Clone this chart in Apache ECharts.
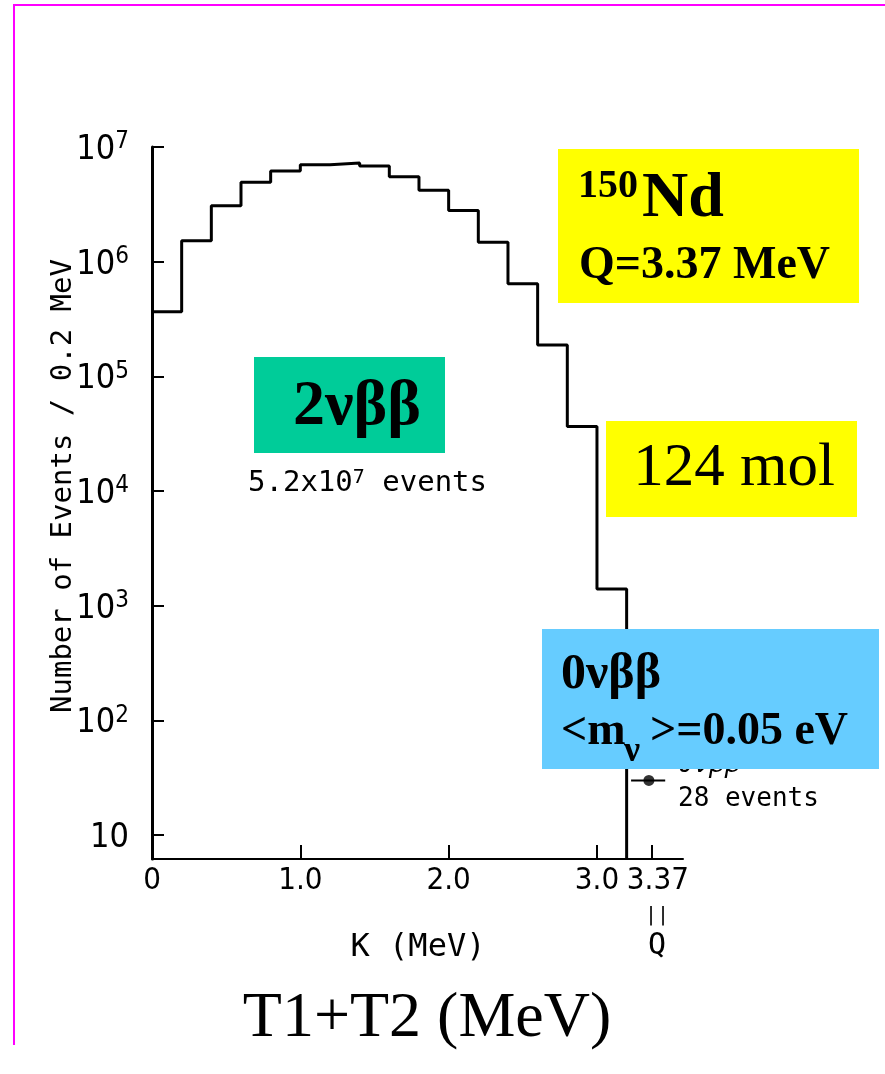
<!DOCTYPE html>
<html>
<head>
<meta charset="utf-8">
<script src="https://cdn.jsdelivr.net/npm/echarts@6/dist/echarts.min.js"></script>
<style>
html,body{margin:0;padding:0;background:#fff;}
#chart{width:885px;height:1074px;}
</style>
</head>
<body>
<div id="chart"></div>
<script>
// ---- data ----
const binStartMeV = [0.0,0.2,0.4,0.6,0.8,1.0,1.2,1.4,1.6,1.8,2.0,2.2,2.4,2.6,2.8,3.0];
const binWidthMeV = 0.2;
const eventsPerBin = [3.66e5,1.52e6,3.08e6,4.92e6,6.18e6,7.0e6,7.24e6,6.82e6,5.51e6,4.19e6,2.79e6,1.48e6,6.43e5,1.88e5,3.65e4,1.40e3];
const xTickValues = [0, 1, 2, 3, 3.37];
const xTickLabels = ['0', '1.0', '2.0', '3.0', '3.37'];
const xMax = 3.58;
const yMin = 6.2, yMax = 1e7;
const zeroNuEnergy = 3.35;
const zeroNuRange = [3.23, 3.46];
const zeroNuCount = 30;

// build histogram outline
const histData = binStartMeV.map((x, i) => [x, eventsPerBin[i]]);
const lastEdge = binStartMeV[binStartMeV.length - 1] + binWidthMeV;
histData.push([lastEdge, eventsPerBin[eventsPerBin.length - 1]]);
histData.push([lastEdge, yMin]);

// axis end is added as a hidden tick so that the real labels are never dropped
const xTickPositions = xTickValues.concat([xMax]);

const SERIF = 'Liberation Serif, Times New Roman, serif';
const NARROW = 'Liberation Sans Narrow, DejaVu Sans Condensed, Arial Narrow, sans-serif';
const MONO = 'DejaVu Sans Mono, Liberation Mono, monospace';

const chart = echarts.init(document.getElementById('chart'), null, {renderer: 'canvas'});
chart.setOption({
  animation: false,
  backgroundColor: '#ffffff',
  grid: {left: 152, top: 147, width: 531, height: 712, containLabel: false},
  xAxis: {
    type: 'value', min: 0, max: xMax,
    axisLine: {lineStyle: {color: '#000', width: 2}},
    axisTick: {show: true, inside: true, length: 14, lineStyle: {color: '#000', width: 2}, customValues: xTickPositions},
    axisLabel: {
      customValues: xTickPositions, margin: 6, color: '#000', fontFamily: NARROW, fontSize: 31,
      showMinLabel: true, showMaxLabel: false, hideOverlap: false,
      formatter: function (v) {
        for (let i = 0; i < xTickValues.length; i++) {
          if (Math.abs(v - xTickValues[i]) < 1e-6) {
            return i === xTickValues.length - 1 ? '{r|' + xTickLabels[i] + '}' : xTickLabels[i];
          }
        }
        return '';
      },
      rich: {
        r: {fontFamily: NARROW, fontSize: 31, color: '#000', padding: [0, 0, 0, 12]}
      }
    },
    splitLine: {show: false}
  },
  yAxis: {
    type: 'log', logBase: 10, min: yMin, max: yMax,
    axisLine: {show: true, lineStyle: {color: '#000', width: 3}},
    axisTick: {show: true, inside: true, length: 12, lineStyle: {color: '#000', width: 2}},
    axisLabel: {
      margin: 23, color: '#000', showMaxLabel: true,
      formatter: function (v) {
        const e = Math.log10(v);
        const r = Math.round(e);
        if (Math.abs(e - r) > 1e-6) return '';
        if (r === 1) return '{b|10}';
        return '{b|10}{s|' + r + '}';
      },
      rich: {
        b: {fontFamily: NARROW, fontSize: 34, lineHeight: 34, color: '#000', padding: [6, 0, 0, 0]},
        s: {fontFamily: NARROW, fontSize: 24, lineHeight: 20, color: '#000', verticalAlign: 'top'}
      }
    },
    splitLine: {show: false}
  },
  series: [
    {
      type: 'line', step: 'end', data: histData, symbol: 'none',
      lineStyle: {color: '#000', width: 3}, z: 2
    },
    {
      type: 'line', data: zeroNuRange.map(x => [x, zeroNuCount]), symbol: 'none',
      lineStyle: {color: '#000', width: 2}, z: 3
    },
    {
      type: 'scatter', data: [[zeroNuEnergy, zeroNuCount]], symbol: 'circle', symbolSize: 11,
      itemStyle: {color: '#000'}, z: 4
    }
  ],
  graphic: [
    // magenta frame
    {type: 'line', shape: {x1: 13, y1: 5, x2: 885, y2: 5}, style: {stroke: '#ff00ff', lineWidth: 2}, z: 1},
    {type: 'line', shape: {x1: 14, y1: 4, x2: 14, y2: 1045}, style: {stroke: '#ff00ff', lineWidth: 2}, z: 1},
    // y axis title
    {type: 'text', x: 63, y: 486, rotation: Math.PI / 2,
      style: {text: 'Number of Events / 0.2 MeV', fontFamily: MONO, fontSize: 29, fill: '#000', align: 'center', verticalAlign: 'middle'}},
    // x axis titles
    {type: 'text', x: 418, y: 948,
      style: {text: 'K (MeV)', fontFamily: MONO, fontSize: 32, fill: '#000', align: 'center', verticalAlign: 'middle'}},
    {type: 'text', x: 657, y: 916,
      style: {text: '||', fontFamily: MONO, fontSize: 20, fill: '#000', align: 'center', verticalAlign: 'middle'}},
    {type: 'text', x: 657, y: 946,
      style: {text: 'Q', fontFamily: MONO, fontSize: 30, fill: '#000', align: 'center', verticalAlign: 'middle'}},
    {type: 'text', x: 427, y: 1019,
      style: {text: 'T1+T2 (MeV)', fontFamily: SERIF, fontSize: 64, fill: '#000', align: 'center', verticalAlign: 'middle'}},
    // 2vbb box
    {type: 'rect', shape: {x: 254, y: 357, width: 191, height: 96}, style: {fill: '#00cc99'}, z: 100},
    {type: 'text', x: 357, y: 407, z: 110,
      style: {text: '2νββ', fontFamily: SERIF, fontWeight: 'bold', fontSize: 64, fill: '#000', align: 'center', verticalAlign: 'middle'}},
    {type: 'text', x: 248, y: 483, z: 110,
      style: {text: '{a|5.2x10}{s|7}{a| events}', fontFamily: MONO, fill: '#000', align: 'left', verticalAlign: 'middle',
        rich: {a: {fontFamily: MONO, fontSize: 29, lineHeight: 30}, s: {fontFamily: MONO, fontSize: 20, lineHeight: 14, verticalAlign: 'top'}}}},
    // 150Nd box
    {type: 'rect', shape: {x: 558, y: 149, width: 301, height: 154}, style: {fill: '#ffff00'}, z: 100},
    {type: 'text', x: 578, y: 187, z: 110,
      style: {text: '150', fontFamily: SERIF, fontWeight: 'bold', fontSize: 40, fill: '#000', align: 'left', verticalAlign: 'middle'}},
    {type: 'text', x: 642, y: 199, z: 110,
      style: {text: 'Nd', fontFamily: SERIF, fontWeight: 'bold', fontSize: 64, fill: '#000', align: 'left', verticalAlign: 'middle'}},
    {type: 'text', x: 579, y: 266, z: 110,
      style: {text: 'Q=3.37 MeV', fontFamily: SERIF, fontWeight: 'bold', fontSize: 46, fill: '#000', align: 'left', verticalAlign: 'middle'}},
    // 124 mol box
    {type: 'rect', shape: {x: 606, y: 421, width: 251, height: 96}, style: {fill: '#ffff00'}, z: 100},
    {type: 'text', x: 734, y: 469, z: 110,
      style: {text: '124 mol', fontFamily: SERIF, fontSize: 61, fill: '#000', align: 'center', verticalAlign: 'middle'}},
    // 0vbb text under blue box
    {type: 'text', x: 678, y: 765, z: 50,
      style: {text: '0νββ', fontFamily: MONO, fontStyle: 'italic', fontSize: 26, fill: '#000', align: 'left', verticalAlign: 'middle'}},
    {type: 'text', x: 678, y: 799, z: 50,
      style: {text: '28 events', fontFamily: MONO, fontSize: 26, fill: '#000', align: 'left', verticalAlign: 'middle'}},
    // blue box
    {type: 'rect', shape: {x: 542, y: 629, width: 337, height: 140}, style: {fill: '#66ccff'}, z: 100},
    {type: 'text', x: 561, y: 675, z: 110,
      style: {text: '0νββ', fontFamily: SERIF, fontWeight: 'bold', fontSize: 50, fill: '#000', align: 'left', verticalAlign: 'middle'}},
    {type: 'text', x: 561, y: 732, z: 110,
      style: {text: '<m', fontFamily: SERIF, fontWeight: 'bold', fontSize: 46, fill: '#000', align: 'left', verticalAlign: 'middle'}},
    {type: 'text', x: 624, y: 752, z: 110,
      style: {text: 'ν', fontFamily: SERIF, fontWeight: 'bold', fontSize: 36, fill: '#000', align: 'left', verticalAlign: 'middle'}},
    {type: 'text', x: 650, y: 732, z: 110,
      style: {text: '>=0.05 eV', fontFamily: SERIF, fontWeight: 'bold', fontSize: 46, fill: '#000', align: 'left', verticalAlign: 'middle'}}
  ]
});
</script>
</body>
</html>
